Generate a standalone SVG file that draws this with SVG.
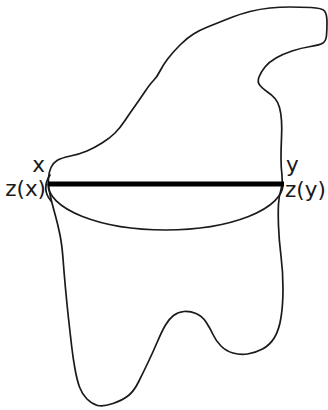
<svg xmlns="http://www.w3.org/2000/svg" width="328" height="410" viewBox="0 0 328 410">
<style>
.outline{fill:none;stroke:#1a1a1a;stroke-width:1.7;stroke-linejoin:round;stroke-linecap:round}
.thin{fill:none;stroke:#1a1a1a;stroke-width:1.7;stroke-linecap:round}
.bar{stroke:#000;stroke-width:5}
.lbl{font-family:"DejaVu Sans",Verdana,sans-serif;font-size:21.5px;fill:#1a1a1a}
</style>
<rect width="328" height="410" fill="#fff"/>
<g id="outline">
<path class="outline" d="M49,189 Q48,183 48.5,177.5 Q49,172 51,167.5 Q53,163 57,160.5 Q61,158 70.5,156 Q80,154 87,151 Q94,148 102,143 Q110,138 115,133 Q120,128 125,120.5 Q130,113 135,106 Q140,99 145,91.5 Q150,84 153.5,80.5 Q157,77 160,71 Q163,65 168,58.5 Q173,52 180,45 Q187,38 193.5,34 Q200,30 207.5,27 Q215,24 227.5,19 Q240,14 250,11.5 Q260,9 270,8 Q280,7 290,7 Q300,7 311,7.5 Q322,8 324.5,11 Q327,14 327,22 Q327,30 326.5,35.5 Q326,41 323,43 Q320,45 310.5,46.5 Q301,48 292,51 Q283,54 276,58 Q269,62 265,67 Q261,72 259,77 Q257,82 260,85.5 Q263,89 267.5,92 Q272,95 275,98.5 Q278,102 279.5,107.5 Q281,113 281.5,120.5 Q282,128 281.5,138 Q281,148 281,158 Q281,168 282,175.5 Q283,183 281,189.5 Q279,196 278.5,204 Q278,212 278.5,226 Q279,240 281,256 Q283,272 283,288.5 Q283,305 281,317.5 Q279,330 274.5,337.5 Q270,345 262.5,349 Q255,353 247.5,354 Q240,355 233,353 Q226,351 221,346 Q216,341 213,334.5 Q210,328 206,322 Q202,316 196,313.5 Q190,311 184,311.5 Q178,312 173.5,315.5 Q169,319 165.5,325 Q162,331 157.5,341.5 Q153,352 148,362.5 Q143,373 138.5,382 Q134,391 128.5,395.5 Q123,400 113,403.5 Q103,407 97.5,405.5 Q92,404 87,399 Q82,394 79.5,387 Q77,380 75,369 Q73,358 71.5,345 Q70,332 68.5,318.5 Q67,305 65.5,288.5 Q64,272 63,258.5 Q62,245 60,235 Q58,225 55.5,216 Q53,207 51.5,201 Q50,195 49,189 Z"/>
</g>
<g id="section">
<path class="thin" d="M48,184 A117.5 46 0 0 0 283,184"/>
<path class="thin" d="M50,175 Q41,189 51,201"/>
</g>
<g id="chord">
<line class="bar" x1="48" y1="184" x2="284" y2="184"/>
</g>
<g id="labels">
<text class="lbl" x="45" y="172" text-anchor="end">x</text>
<text class="lbl" x="46" y="196" text-anchor="end">z(x)</text>
<text class="lbl" x="286" y="172">y</text>
<text class="lbl" x="285" y="197">z(y)</text>
</g>
</svg>
